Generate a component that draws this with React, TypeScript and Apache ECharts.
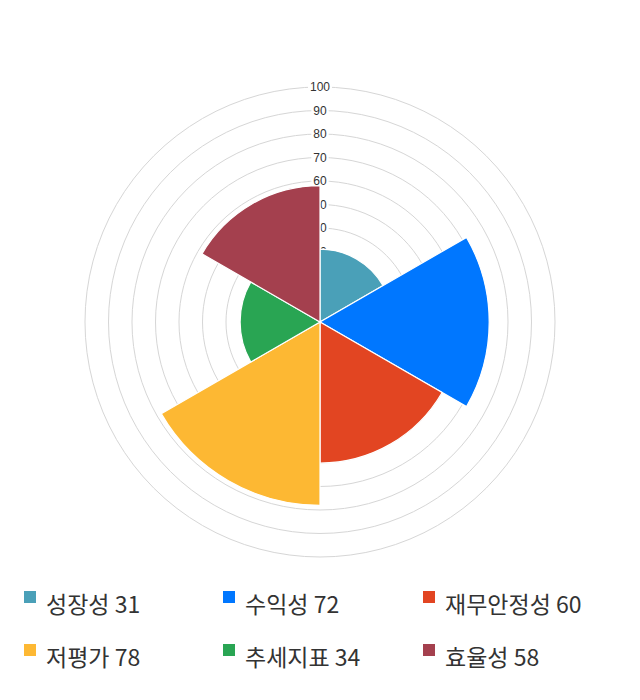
import React, { useEffect, useRef } from "react";
import * as echarts from "echarts";

const categories = ["성장성", "수익성", "재무안정성", "저평가", "추세지표", "효율성"];
const values = [31, 72, 60, 78, 34, 58];
const colors = ["#4aa0b8", "#0077ff", "#e24522", "#fdb833", "#29a553", "#a4404e"];
const radiusTicks = { min: 0, max: 100, interval: 10 };

export default function App() {
  const ref = useRef<HTMLDivElement>(null);
  useEffect(() => {
    if (!ref.current) return;
    const chart = echarts.init(ref.current, null, { renderer: "svg" });
    const font = "'Noto Sans CJK KR', 'Noto Sans', sans-serif";
    const series = categories.map((name, i) => ({
      type: "bar",
      name,
      coordinateSystem: "polar",
      data: categories.map((_, j) => (j === i ? values[i] : null)),
      barGap: "-100%",
      barCategoryGap: "0%",
      itemStyle: { color: colors[i], borderColor: "#fff", borderWidth: 1.2 },
      z: 3,
    }));
    const legendCol = (idx: number[], left: number) => ({
      orient: "vertical",
      left,
      top: 589,
      padding: 0,
      itemWidth: 14,
      itemHeight: 26,
      itemGap: 25,
      icon: "path://M0,0h14v14h-14zM13.99,25.99h0.01v0.01h-0.01z",
      data: idx.map((i) => categories[i]),
      formatter: (n: string) => `${n} ${values[categories.indexOf(n)]}`,
      textStyle: {
        fontFamily: font,
        fontSize: 23,
        lineHeight: 23,
        color: "#333",
        padding: [0, 0, 0, 4],
      },
      selectedMode: false,
    });
    chart.setOption({
      animation: false,
      polar: { center: [320, 322], radius: 235 },
      angleAxis: {
        type: "category",
        data: categories,
        startAngle: 90,
        clockwise: true,
        axisLine: { show: false },
        axisTick: { show: false },
        axisLabel: { show: false },
        splitLine: { show: false },
      },
      radiusAxis: {
        type: "value",
        min: radiusTicks.min,
        max: radiusTicks.max,
        interval: radiusTicks.interval,
        axisLine: { show: false },
        axisTick: { show: false },
        splitLine: { show: true, lineStyle: { color: "#d6d6d6", width: 1 } },
        axisLabel: {
          margin: 0,
          align: "center",
          verticalAlign: "middle",
          fontSize: 12,
          fontFamily: "'Liberation Sans', Arial, sans-serif",
          color: "#333",
          backgroundColor: "#fff",
          padding: [0, 2],
        },
        z: 1,
      },
      legend: [legendCol([0, 3], 22), legendCol([1, 4], 221), legendCol([2, 5], 421)],
      series,
    });
    return () => chart.dispose();
  }, []);
  return (
    <div
      ref={ref}
      style={{ position: "absolute", left: 0, top: 0, width: 640, height: 700 }}
    />
  );
}
